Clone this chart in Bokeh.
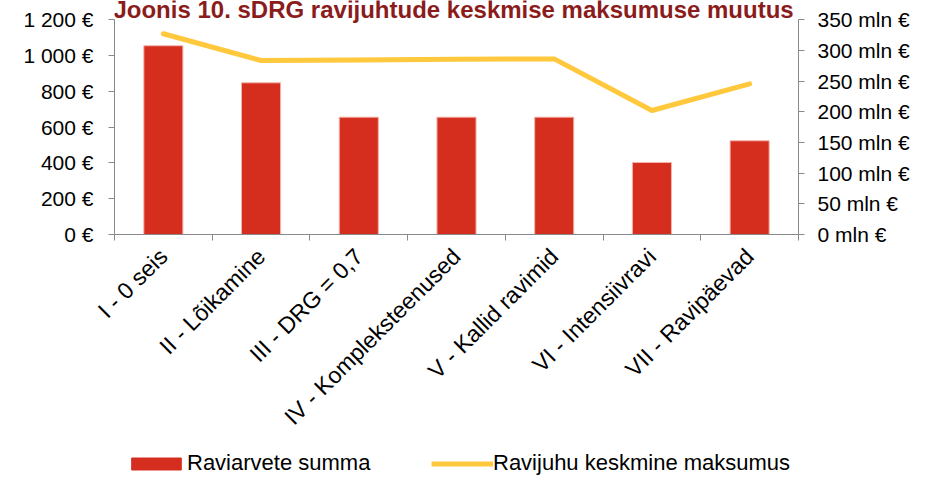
import math
import numpy as np
from bokeh.plotting import figure
from bokeh.layouts import column
from bokeh.models import Range1d, LinearAxis, FixedTicker, Legend, LegendItem, Label
from bokeh.embed import file_html
from bokeh.resources import INLINE

title_text = "Joonis 10. sDRG ravijuhtude keskmise maksumuse muutus"
categories = ["I - 0 seis", "II - Lõikamine", "III - DRG = 0,7", "IV - Kompleksteenused",
              "V - Kallid ravimid", "VI - Intensiivravi", "VII - Ravipäevad"]
sums_mln = [307.7, 247.3, 191.3, 191.3, 191.3, 117.4, 152.8]      # Raviarvete summa (mln €)
avg_cost = [1122, 972.6, 976, 979.5, 981.6, 693, 842]            # Ravijuhu keskmine maksumus (€)
left_ticks = [0, 200, 400, 600, 800, 1000, 1200]
left_labels = ["0 €", "200 €", "400 €", "600 €", "800 €", "1 000 €", "1 200 €"]
right_ticks = [0, 50, 100, 150, 200, 250, 300, 350]
right_labels = ["0 mln €", "50 mln €", "100 mln €", "150 mln €", "200 mln €",
                "250 mln €", "300 mln €", "350 mln €"]
series_names = ["Raviarvete summa", "Ravijuhu keskmine maksumus"]

FONT = "Liberation Sans"
AXIS_GRAY = "#898989"
BAR_RED = "#D62E1E"
BAR_EDGE = "#F2B5AC"
LINE_YELLOW = "#FFC83D"
TITLE_RED = "#8B1C1C"

n = len(categories)
xs = np.arange(n) + 0.5

# frame extends to the top of the canvas (room for the title); axes are bounded to 0..max
LEFT_MAX, RIGHT_MAX = 1200, 350
HEADROOM = 234 / (234 - 19.3)

p = figure(width=914, height=452, x_range=Range1d(0, n),
           y_range=Range1d(0, LEFT_MAX * HEADROOM),
           output_backend="svg", toolbar_location=None,
           min_border_left=114, min_border_right=116, min_border_top=0, min_border_bottom=218)
p.extra_y_ranges = {"mln": Range1d(0, RIGHT_MAX * HEADROOM)}
p.outline_line_color = None
p.xgrid.visible = False
p.ygrid.visible = False

bars = p.vbar(x=xs, top=sums_mln, bottom=0, width=0.4, y_range_name="mln",
              fill_color=BAR_RED, line_color=BAR_EDGE, line_width=1)
line = p.line(xs, avg_cost, line_color=LINE_YELLOW, line_width=5,
              line_join="round", line_cap="round")

# x axis: labels at category centres, small ticks at category boundaries
xa = p.xaxis[0]
xa.ticker = FixedTicker(ticks=[float(v) for v in xs], minor_ticks=list(range(n + 1)))
xa.major_label_overrides = {float(v): c for v, c in zip(xs, categories)}
xa.major_label_orientation = math.pi / 4
xa.major_tick_out = 0
xa.major_tick_in = 0
xa.minor_tick_out = 6
xa.minor_tick_in = 0
xa.minor_tick_line_color = AXIS_GRAY
xa.axis_line_color = AXIS_GRAY
xa.major_label_standoff = 12
xa.major_label_text_font = FONT
xa.major_label_text_font_size = "23px"
xa.major_label_text_color = "black"

# left axis (€)
ya = p.yaxis[0]
ya.ticker = FixedTicker(ticks=left_ticks)
ya.bounds = (0, LEFT_MAX)
ya.major_label_overrides = {t: l for t, l in zip(left_ticks, left_labels)}
ya.major_tick_out = 6
ya.major_tick_in = 0
ya.minor_tick_out = 0
ya.minor_tick_in = 0
ya.axis_line_color = AXIS_GRAY
ya.major_tick_line_color = AXIS_GRAY
ya.major_label_standoff = 15
ya.major_label_text_font = FONT
ya.major_label_text_font_size = "21px"
ya.major_label_text_color = "black"

# right axis (mln €)
ra = LinearAxis(y_range_name="mln", ticker=FixedTicker(ticks=right_ticks), bounds=(0, RIGHT_MAX))
ra.major_label_overrides = {t: l for t, l in zip(right_ticks, right_labels)}
ra.major_tick_out = 6
ra.major_tick_in = 0
ra.minor_tick_out = 0
ra.minor_tick_in = 0
ra.axis_line_color = AXIS_GRAY
ra.major_tick_line_color = AXIS_GRAY
ra.major_label_standoff = 13
ra.major_label_text_font = FONT
ra.major_label_text_font_size = "21px"
ra.major_label_text_color = "black"
p.add_layout(ra, "right")

# title (inside the frame's headroom)
p.add_layout(Label(x=3.47, y=1258, text=title_text, text_align="center",
                   text_baseline="middle", text_font=FONT, text_font_size="24px",
                   text_font_style="bold", text_color=TITLE_RED))

# ---- legend strip ----
lf = figure(width=914, height=24, output_backend="svg", toolbar_location=None,
            x_axis_location=None, y_axis_location=None, min_border=0,
            x_range=Range1d(0, n), y_range=Range1d(0, LEFT_MAX))
lf.outline_line_color = None
lf.xgrid.visible = False
lf.ygrid.visible = False
lbars = lf.vbar(x=xs, top=sums_mln, bottom=0, width=0.4,
                fill_color=BAR_RED, line_color=BAR_RED, visible=False)
lline = lf.line(xs, avg_cost, line_color=LINE_YELLOW, line_width=5, visible=False)
legend = Legend(items=[LegendItem(label=series_names[0], renderers=[lbars]),
                       LegendItem(label=series_names[1], renderers=[lline])],
                orientation="horizontal", location=(11, 0),
                glyph_width=62, glyph_height=15, label_standoff=0, label_width=230,
                label_height=24, spacing=14, padding=0, margin=0,
                border_line_color=None, background_fill_alpha=0,
                inactive_fill_alpha=0,
                label_text_font=FONT, label_text_font_size="22px", label_text_color="black")
lf.add_layout(legend)

layout = column(p, lf, spacing=0)
open("out.html", "w").write(file_html(layout, INLINE))
